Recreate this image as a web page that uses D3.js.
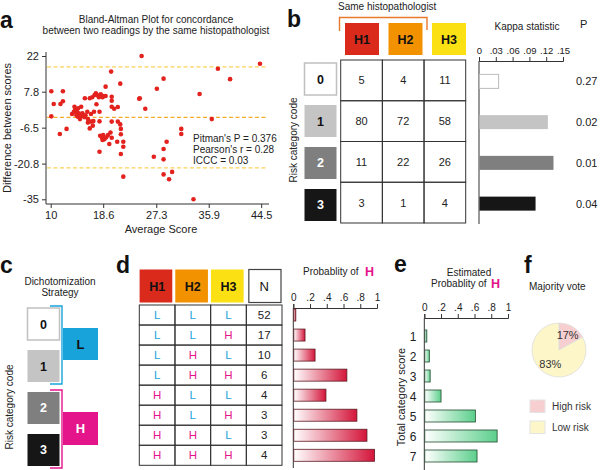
<!DOCTYPE html>
<html><head><meta charset="utf-8">
<script src="https://cdn.jsdelivr.net/npm/d3@7"></script>
<style>
body{margin:0;background:#fff;}
svg{font-family:"Liberation Sans",Arial,Helvetica,sans-serif;}
</style></head><body>
<svg id="c" width="600" height="470"></svg>
<script>
// ---------- DATA ----------
// Panel a: Bland-Altman scatter
const avgScore = [10.1,10.5,10.1,11.6,12.0,12.0,11.5,12.6,
  13.5,13.8,13.9,14.0,14.2,14.3,14.4,14.5,14.6,14.8,15.0,15.0,15.2,15.6,15.5,15.7,16.0,16.1,16.1,16.4,16.6,16.6,16.9,17.0,17.1,
  16.4,16.8,17.2,17.4,17.6,17.9,18.2,18.5,18.7,19.0,
  17.5,18.0,18.0,
  19.9,19.0,20.0,20.0,20.0,20.4,21.0,21.4,
  20.0,21.0,21.4,21.5,21.5,20.9,21.9,21.9,21.5,21.9,
  18.1,18.4,18.6,18.8,19.1,19.4,19.6,19.8,20.0,18.5,18.0,
  24.9,44.3,37.4,39.4,28.5,27.4,34.4,24.5,24.6,25.5,36.4,31.4,31.4,29.0,28.5,28.5,26.9,28.5,29.9,29.4,33.4];
const diffScore = [8.0,2.9,-2.0,2.9,8.0,4.0,-9.0,-7.0,
  -1.1,-0.2,1.8,0.5,-1.5,-0.2,-2.1,1.2,-0.8,-3.1,1.8,-1.9,-0.8,5.2,-2.3,-1.6,-0.2,-3.1,-4.5,-6.8,-1.1,-4.1,-5.7,-3.9,-0.2,
  5.2,5.6,6.5,7.2,6.5,5.6,6.8,5.6,6.1,6.1,
  2.8,-0.2,-4.0,
  15.8,9.8,5.8,4.2,1.8,1.0,1.7,11.0,
  -4.1,-4.1,-5.2,-7.0,-9.1,-12.1,-12.1,-14.1,-17.0,-26.0,
  -9.7,-10.5,-9.4,-11.1,-10.3,-9.4,-13.0,-8.4,-10.5,-11.4,-16.1,
  22.0,18.9,16.9,12.8,13.0,9.0,6.9,5.0,5.2,1.0,-3.1,-7.0,-9.0,-12.1,-15.0,-19.1,-18.1,-25.1,-24.1,-27.0,-35.0];
const baUpper = 17.7, baMean = -2.4, baLower = -22.5;
const aXTicks = [10, 18.6, 27.3, 35.9, 44.5];
const aXTickLabels = ["10","18.6","27.3","35.9","44.5"];
const aYTicks = [22, 7.8, -6.5, -20.8, -35];
const aYTickLabels = ["22","7.8","-6.5","-20.8","-35"];
const aStats = ["Pitman's P = 0.376","Pearson's r = 0.28","ICCC = 0.03"];

// Panel b
const raters = ["H1","H2","H3"];
const riskCodes = ["0","1","2","3"];
const countsByCode = [[5,4,11],[80,72,58],[11,22,26],[3,1,4]];
const kappa = [0.035,0.123,0.133,0.101];
const kappaP = ["0.27","0.02","0.01","0.04"];
const kappaTicks = [0,0.03,0.06,0.09,0.12,0.15];
const kappaTickLabels = ["0",".03",".06",".09",".12",".15"];

// Panel d
const patternCols = ["H1","H2","H3","N"];
const patterns = [["L","L","L"],["L","L","H"],["L","H","L"],["L","H","H"],["H","L","L"],["H","L","H"],["H","H","L"],["H","H","H"]];
const patternN = [52,17,10,6,4,3,3,4];
const probH = [0.03,0.14,0.26,0.64,0.39,0.76,0.88,0.97];
const probTicks = [0,0.2,0.4,0.6,0.8,1];
const probTickLabels = ["0",".2",".4",".6",".8","1"];

// Panel e
const totalScore = ["1","2","3","4","5","6","7"];
const estProbH = [0.03,0.06,0.07,0.20,0.61,0.87,0.63];

// Panel f
const voteLabels = ["High risk","Low risk"];
const votePct = [17,83];

// ---------- DRAW ----------
const svg = d3.select("#c");
const codeFill = ["#ffffff","#c4c4c4","#7f7f7f","#161616"];
const codeText = ["#111","#111","#fff","#fff"];
const raterFill = {H1:"#d92a1c",H2:"#f39200",H3:"#fbe014"};
const LH = {L:"#18a4db",H:"#e4148b"};

function text(x,y,s,o={}){
  const t = svg.append("text").attr("x",x).attr("y",y).text(s)
    .attr("font-size",o.size||10).attr("fill",o.fill||"#222")
    .attr("text-anchor",o.anchor||"start");
  if(o.bold) t.attr("font-weight","bold");
  if(o.rot) t.attr("transform",`rotate(-90,${x},${y})`);
  return t;
}
function panelLetter(x,y,s){ text(x,y,s,{size:23,bold:true,fill:"#111"}); }

// gradients
const defs = svg.append("defs");
function grad(id,c){
  const g = defs.append("linearGradient").attr("id",id);
  g.append("stop").attr("offset","0").attr("stop-color","#ffffff");
  g.append("stop").attr("offset","1").attr("stop-color",c);
}
grad("gRed","#d4153a");
grad("gGreen","#5ccf8c");

// ===== Panel a =====
panelLetter(0,28,"a");
text(156,23,"Bland-Altman Plot for concordance",{anchor:"middle",size:10});
text(156,34,"between two readings by the same histopathologist",{anchor:"middle",size:10});
const xA = d3.scaleLinear().domain([10,44.5]).range([50.7,261.2]);
const yA = d3.scaleLinear().domain([-35,22]).range([199.3,56]);
const gy = svg.append("g").attr("transform","translate(46,0)")
  .call(d3.axisLeft(yA).tickValues(aYTicks).tickFormat((d,i)=>aYTickLabels[i]).tickSize(4).tickPadding(3));
gy.select(".domain").remove();
const gx = svg.append("g").attr("transform","translate(0,204)")
  .call(d3.axisBottom(xA).tickValues(aXTicks).tickFormat((d,i)=>aXTickLabels[i]).tickSize(4).tickPadding(3));
gx.select(".domain").remove();
[gx,gy].forEach(g=>{g.selectAll("text").attr("font-size",11).attr("font-family","Liberation Sans, Arial").attr("fill","#222");
  g.selectAll("line").attr("stroke","#333");});
svg.append("line").attr("x1",46).attr("x2",46).attr("y1",52).attr("y2",204).attr("stroke","#333");
svg.append("line").attr("x1",46).attr("x2",269).attr("y1",204).attr("y2",204).attr("stroke","#333");
[[baUpper,"#fbd25a"],[baMean,"#f4ad2a"],[baLower,"#fbd25a"]].forEach(([v,c])=>{
  svg.append("line").attr("x1",47).attr("x2",268).attr("y1",yA(v)).attr("y2",yA(v))
    .attr("stroke",c).attr("stroke-width",1.3).attr("stroke-dasharray","4,2.5");
});
svg.append("g").selectAll("circle").data(avgScore).join("circle")
  .attr("cx",d=>xA(d)).attr("cy",(d,i)=>yA(diffScore[i])).attr("r",2.3).attr("fill","#e3221e");
aStats.forEach((s,i)=>text(193,142+i*11,s,{size:10}));
text(11,128,"Difference between scores",{rot:true,anchor:"middle",size:11});
text(161,233,"Average Score",{anchor:"middle",size:11});

// ===== Panel b =====
panelLetter(287,27,"b");
text(338,10,"Same histopathologist",{size:10});
svg.append("path").attr("d","M339.5,31V17.5H427V30").attr("fill","none").attr("stroke","#e8792a").attr("stroke-width",1.4);
const hxB = d3.scaleBand().domain(raters).range([345,466]).paddingInner(0.218);
raters.forEach(r=>{
  svg.append("rect").attr("x",hxB(r)).attr("y",23).attr("width",hxB.bandwidth()).attr("height",32).attr("fill",raterFill[r]);
  text(hxB(r)+hxB.bandwidth()/2,44,r,{anchor:"middle",bold:true,size:12.5,fill:"#111"});
});
const rowB = d3.scaleBand().domain(riskCodes).range([60,223]);
const colB = d3.scaleBand().domain(raters).range([340.7,465.7]);
riskCodes.forEach((c,i)=>{
  raters.forEach((r,j)=>{
    svg.append("rect").attr("x",colB(r)).attr("y",rowB(c)).attr("width",colB.bandwidth()).attr("height",rowB.bandwidth())
      .attr("fill","none").attr("stroke","#333").attr("stroke-width",1);
    text(colB(r)+colB.bandwidth()/2,rowB(c)+rowB.bandwidth()/2+4,countsByCode[i][j],{anchor:"middle",size:11});
  });
});
const boxB = d3.scaleBand().domain(riskCodes).range([63,221]).paddingInner(0.238);
riskCodes.forEach((c,i)=>{
  svg.append("rect").attr("x",304.5).attr("y",boxB(c)).attr("width",32).attr("height",boxB.bandwidth())
    .attr("fill",codeFill[i]).attr("stroke",i===0?"#c0c0c0":"none").attr("stroke-width",1.5);
  text(320.5,boxB(c)+boxB.bandwidth()/2+4.5,c,{anchor:"middle",bold:true,size:12.5,fill:codeText[i]});
});
text(297,140,"Risk category code",{rot:true,anchor:"middle",size:10});
// kappa
text(527,30,"Kappa statistic",{anchor:"middle",size:10});
text(580,28,"P",{size:11});
const xK = d3.scaleLinear().domain([0,0.15]).range([479,563]);
const gk = svg.append("g").attr("transform","translate(0,61)")
  .call(d3.axisTop(xK).tickValues(kappaTicks).tickFormat((d,i)=>kappaTickLabels[i]).tickSize(4).tickPadding(3));
gk.selectAll("text").attr("font-size",9.5).attr("fill","#222");
gk.selectAll("line,path").attr("stroke","#333");
svg.append("line").attr("x1",479).attr("x2",479).attr("y1",61).attr("y2",224).attr("stroke","#333");
riskCodes.forEach((c,i)=>{
  const cy = rowB(c)+rowB.bandwidth()/2+1;
  svg.append("rect").attr("x",479.5).attr("y",cy-7).attr("width",xK(kappa[i])-479.5).attr("height",14)
    .attr("fill",codeFill[i]).attr("stroke",i===0?"#bbb":"none");
  text(576,cy+4,kappaP[i],{size:11});
});

// ===== Panel c =====
panelLetter(0,273,"c");
text(60,285,"Dichotomization",{anchor:"middle",size:10});
text(60,296,"Strategy",{anchor:"middle",size:10});
const boxC = d3.scaleBand().domain(riskCodes).range([308,466]).paddingInner(0.238);
riskCodes.forEach((c,i)=>{
  svg.append("rect").attr("x",27.5).attr("y",boxC(c)).attr("width",32).attr("height",boxC.bandwidth())
    .attr("fill",codeFill[i]).attr("stroke",i===0?"#c0c0c0":"none").attr("stroke-width",1.5);
  text(43.5,boxC(c)+boxC.bandwidth()/2+4.5,c,{anchor:"middle",bold:true,size:12.5,fill:codeText[i]});
});
svg.append("path").attr("d","M50,306H62V384H50").attr("fill","none").attr("stroke",LH.L).attr("stroke-width",1.4);
svg.append("path").attr("d","M50,390H62V468H50").attr("fill","none").attr("stroke",LH.H).attr("stroke-width",1.4);
svg.append("rect").attr("x",63).attr("y",328).attr("width",35).attr("height",32).attr("fill",LH.L);
text(80.5,349,"L",{anchor:"middle",bold:true,size:13,fill:"#111"});
svg.append("rect").attr("x",63).attr("y",412).attr("width",35).attr("height",33).attr("fill",LH.H);
text(80.5,433,"H",{anchor:"middle",bold:true,size:13,fill:"#fff"});
text(13,407,"Risk category code",{rot:true,anchor:"middle",size:10});

// ===== Panel d =====
panelLetter(116,273,"d");
const colD = d3.scaleBand().domain(patternCols).range([139.3,282]);
patternCols.forEach((c,j)=>{
  const isN = c==="N";
  svg.append("rect").attr("x",colD(c)+(isN?2.5:0.3)).attr("y",269.5).attr("width",colD.bandwidth()-(isN?3.5:3)).attr("height",33)
    .attr("fill",isN?"#fff":raterFill[c]).attr("stroke",isN?"#444":"none").attr("stroke-width",1.2);
  text(colD(c)+colD.bandwidth()/2,291,c,{anchor:"middle",bold:!isN,size:isN?13:12.5,fill:"#111"});
});
const rowD = d3.scaleBand().domain(d3.range(patterns.length)).range([305,465.3]);
patterns.forEach((p,i)=>{
  patternCols.forEach((c,j)=>{
    svg.append("rect").attr("x",colD(c)).attr("y",rowD(i)).attr("width",colD.bandwidth()).attr("height",rowD.bandwidth())
      .attr("fill","none").attr("stroke","#333").attr("stroke-width",1);
    const v = j<3 ? p[j] : patternN[i];
    text(colD(c)+colD.bandwidth()/2,rowD(i)+rowD.bandwidth()/2+4,v,{anchor:"middle",size:11.5,fill:j<3?LH[v]:"#222"});
  });
});
text(303,275,"Probablity of",{size:10});
text(365,276,"H",{size:12.5,bold:true,fill:LH.H});
const xD = d3.scaleLinear().domain([0,1]).range([293.3,377]);
const gd = svg.append("g").attr("transform","translate(0,308)")
  .call(d3.axisTop(xD).tickValues(probTicks).tickFormat((d,i)=>probTickLabels[i]).tickSize(4).tickPadding(3));
gd.selectAll("text").attr("font-size",10).attr("fill","#222");
gd.selectAll("line,path").attr("stroke","#333");
svg.append("line").attr("x1",293.3).attr("x2",293.3).attr("y1",308).attr("y2",468).attr("stroke","#333");
probH.forEach((v,i)=>{
  const cy = rowD(i)+rowD.bandwidth()/2;
  svg.append("rect").attr("x",293.8).attr("y",cy-6).attr("width",xD(v)-293.8).attr("height",12)
    .attr("fill","url(#gRed)").attr("stroke","#5a1a22").attr("stroke-width",0.8);
});

// ===== Panel e =====
panelLetter(394,272,"e");
text(469,276,"Estimated",{anchor:"middle",size:10});
text(431,287,"Probablity of",{size:10});
text(491,288,"H",{size:12.5,bold:true,fill:LH.H});
const xE = d3.scaleLinear().domain([0,1]).range([424.3,508]);
const ge = svg.append("g").attr("transform","translate(0,318)")
  .call(d3.axisTop(xE).tickValues(probTicks).tickFormat((d,i)=>probTickLabels[i]).tickSize(4).tickPadding(3));
ge.selectAll("text").attr("font-size",10).attr("fill","#222");
ge.selectAll("line,path").attr("stroke","#333");
svg.append("line").attr("x1",424.3).attr("x2",424.3).attr("y1",318).attr("y2",470).attr("stroke","#333");
const rowE = d3.scaleBand().domain(totalScore).range([326,466]);
totalScore.forEach((s,i)=>{
  const cy = rowE(s)+rowE.bandwidth()/2;
  svg.append("rect").attr("x",424.8).attr("y",cy-6).attr("width",xE(estProbH[i])-424.8).attr("height",12)
    .attr("fill","url(#gGreen)").attr("stroke","#24492f").attr("stroke-width",0.8);
  text(413,cy+4.5,s,{anchor:"middle",size:12});
});
text(405,397,"Total category score",{rot:true,anchor:"middle",size:11});

// ===== Panel f =====
panelLetter(524,273,"f");
text(529,290,"Majority vote",{size:10});
const pieFill = ["#f7cfd0","#fdf6c9"];
const pie = d3.pie().sort(null)(votePct);
const arc = d3.arc().innerRadius(0).outerRadius(27);
const lab = d3.arc().innerRadius(17).outerRadius(17);
const gp = svg.append("g").attr("transform","translate(559,350)");
gp.selectAll("path").data(pie).join("path").attr("d",arc).attr("fill",(d,i)=>pieFill[i]).attr("stroke","#ddd").attr("stroke-width",0.8);
gp.selectAll("text").data(pie).join("text").attr("transform",d=>`translate(${lab.centroid(d)})`)
  .attr("dy","0.35em").attr("text-anchor","middle").attr("font-size",11).attr("fill","#333").text(d=>d.data+"%");
voteLabels.forEach((l,i)=>{
  svg.append("rect").attr("x",530).attr("y",400+i*21).attr("width",15).attr("height",12.5)
    .attr("fill",pieFill[i]).attr("stroke","#e4e4e4");
  text(552,410+i*21,l,{size:10,fill:"#333"});
});
</script>
</body></html>
